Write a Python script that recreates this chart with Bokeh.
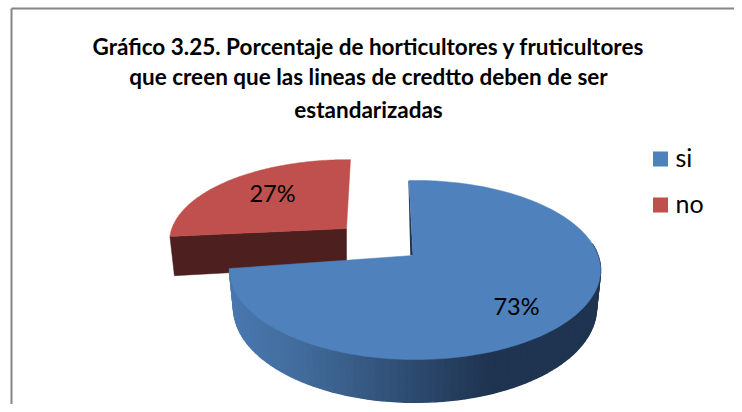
import numpy as np
from bokeh.plotting import figure
from bokeh.models import Range1d
from bokeh.core.properties import value
from bokeh.embed import file_html
from bokeh.resources import INLINE

categories = ["si", "no"]
percents = [73, 27]
title_lines = ["Gráfico 3.25. Porcentaje de horticultores y fruticultores",
               "que creen que las lineas de credtto deben de ser",
               "estandarizadas"]

BLUE = "#4f81bd"
RED = "#c0504d"
RED_DARK = "#4d1f1e"
BLUE_WALL_STOPS = [(228, (74, 120, 176)), (300, (66, 108, 156)), (410, (46, 76, 112)), (490, (31, 52, 80)), (600, (31, 52, 80))]
FONT = "Lato"

W, H = 734, 404
p = figure(width=W, height=H, x_range=Range1d(0, W), y_range=Range1d(H, 0),
           output_backend="svg", toolbar_location=None, min_border=0, outline_line_color=None)
p.axis.visible = False
p.grid.visible = False


def rim(theta_deg, ax, ay, A, B, persp=0.162, lean=0.0135, rot=-1.3):
    """Perspective outline of a pie rim; theta runs clockwise from the top."""
    t = np.radians(np.asarray(theta_deg, dtype=float) + rot)
    u, v = np.sin(t), np.cos(t)
    w = 1 + persp * v - lean * u
    return ax + A * u / w, ay - B * v / w


split = percents[0] / sum(percents) * 360

# red slice (pulled out, behind)
th_r = np.linspace(split, 360, 90)
rx, ry = rim(th_r, 346, 228, 177, 80, rot=1.5)
rbx, rby = rim(th_r, 348, 267, 174.5, 82, rot=1.5)
p.patch([rx[0], 346, 346, rbx[0] + 172, rbx[0]],
        [ry[0], 228, 266, 266, rby[0]], fill_color=RED_DARK, line_color=RED_DARK, line_width=0.5)
p.patch(list(rx) + [346], list(ry) + [228], fill_color=RED, line_color=RED, line_width=0.5)

# blue slice: outer wall
th_b = np.linspace(0, split, 130)
tx, ty = rim(th_b, 412, 255, 183, 87.2)
bx, by = rim(th_b, 412, 292, 179, 92)


def wall_colour(x):
    xs = [s[0] for s in BLUE_WALL_STOPS]
    c = [int(np.interp(x, xs, [s[1][i] for s in BLUE_WALL_STOPS])) for i in range(3)]
    return "#%02x%02x%02x" % tuple(c)


qx, qy, qc = [], [], []
for i in range(len(th_b) - 1):
    if th_b[i + 1] < 85:
        continue
    qx.append([tx[i], tx[i + 1], bx[i + 1], bx[i]])
    qy.append([ty[i], ty[i + 1], by[i + 1], by[i]])
    qc.append(wall_colour((tx[i] + tx[i + 1]) / 2))
p.patches(qx, qy, fill_color=qc, line_color=qc, line_width=1.5)

# blue slice: thin inner wall + top face
p.patch([tx[0] - 0.5, tx[0], 412.5, 409.8], [ty[0] + 1, ty[0], 255, 255],
        fill_color="#1f3450", line_color=None)
p.patch(list(tx) + [412.5], list(ty) + [255], fill_color=BLUE, line_color=BLUE, line_width=0.5)

# slice labels
p.text([516, 272], [305.5, 192.5], text=[f"{percents[0]}%", f"{percents[1]}%"],
       text_font=value(FONT), text_font_size="23.5px", text_color="#000000",
       text_align="center", text_baseline="middle")

# chart border (top and left only reach the picture)
p.segment([W, 11], [8, 8], [11, 11], [8, H], line_color="#868686", line_width=2)

# title
for line, y in zip(title_lines, [46, 76, 109]):
    p.text([368], [y], text=[line], text_font=value(FONT), text_font_style="bold",
           text_font_size="22.5px", text_color="#000000", text_align="center",
           text_baseline="alphabetic")

# legend
p.rect([660, 660], [158.5, 204.5], width=15, height=15, fill_color=[BLUE, RED], line_color=None)
p.text([675, 675], [156, 202], text=categories, text_font=value(FONT), text_font_size="25px",
       text_color="#000000", text_align="left", text_baseline="middle")

open("out.html", "w").write(file_html(p, INLINE))
